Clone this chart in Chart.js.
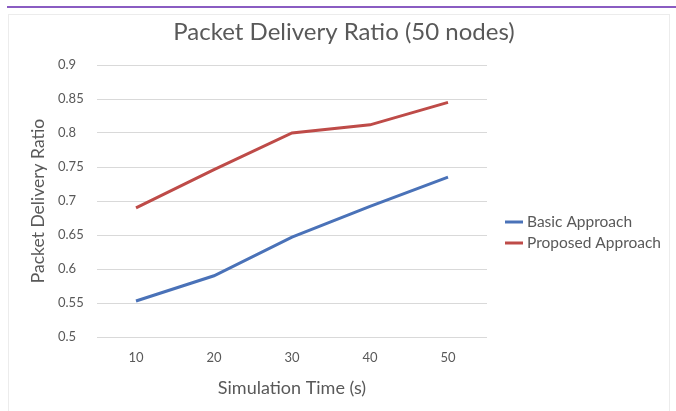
<!DOCTYPE html>
<html>
<head>
<meta charset="utf-8">
<script src="https://cdn.jsdelivr.net/npm/chart.js@4/dist/chart.umd.min.js"></script>
<style>
  html, body { margin: 0; padding: 0; background: #ffffff; }
  body { width: 676px; height: 411px; position: relative; overflow: hidden; }
  #rule { position: absolute; left: 7px; top: 6px; width: 669px; height: 2px; background: #8a5cc2; }
  #frame { position: absolute; left: 8px; top: 14px; width: 662px; height: 400px; border: 1px solid #ececec; box-sizing: border-box; }
  #wrap { position: absolute; left: 0; top: 0; width: 676px; height: 411px; }
</style>
</head>
<body>
<div id="rule"></div>
<div id="frame"></div>
<div id="wrap"><canvas id="c" width="676" height="411"></canvas></div>
<script>
// Simulation times (s) on the category axis
const simTimes = ['10', '20', '30', '40', '50'];
// Packet delivery ratio for each approach
const basicApproach = [0.553, 0.590, 0.647, 0.692, 0.735];
const proposedApproach = [0.690, 0.746, 0.800, 0.812, 0.845];
// Y axis tick labels
const yTicks = ['0.5', '0.55', '0.6', '0.65', '0.7', '0.75', '0.8', '0.85', '0.9'];

const textColor = '#595959';
const fontFamily = 'Lato, "Open Sans", sans-serif';

// Chart title, rotated y-axis title and the side legend
const extras = {
  id: 'extras',
  afterDraw(chart) {
    const ctx = chart.ctx;
    const area = chart.chartArea;

    ctx.save();
    ctx.fillStyle = textColor;
    ctx.font = '24px ' + fontFamily;
    ctx.textAlign = 'center';
    ctx.textBaseline = 'middle';
    ctx.fillText('Packet Delivery Ratio (50 nodes)', 344, 32);
    ctx.restore();

    ctx.save();
    ctx.fillStyle = textColor;
    ctx.font = '17.5px ' + fontFamily;
    ctx.textAlign = 'center';
    ctx.textBaseline = 'middle';
    ctx.translate(38, (area.top + area.bottom) / 2);
    ctx.rotate(-Math.PI / 2);
    ctx.fillText('Packet Delivery Ratio', 0, 0);
    ctx.restore();

    ctx.save();
    ctx.font = '15.5px ' + fontFamily;
    ctx.textBaseline = 'middle';
    chart.data.datasets.forEach((ds, i) => {
      const y = 222 + i * 21;
      ctx.strokeStyle = ds.borderColor;
      ctx.lineWidth = 3;
      ctx.beginPath();
      ctx.moveTo(505, y);
      ctx.lineTo(523, y);
      ctx.stroke();
      ctx.fillStyle = textColor;
      ctx.fillText(ds.label, 527, y);
    });
    ctx.restore();
  }
};

new Chart(document.getElementById('c'), {
  type: 'line',
  data: {
    labels: simTimes,
    datasets: [
      { label: 'Basic Approach', data: basicApproach, borderColor: '#4a72b8', backgroundColor: '#4a72b8', borderWidth: 3, pointRadius: 0, tension: 0 },
      { label: 'Proposed Approach', data: proposedApproach, borderColor: '#be4b48', backgroundColor: '#be4b48', borderWidth: 3, pointRadius: 0, tension: 0 }
    ]
  },
  options: {
    responsive: false,
    animation: false,
    layout: { padding: { left: 58, right: 189, top: 65, bottom: 10 } },
    plugins: {
      legend: { display: false },
      tooltip: { enabled: false },
      title: { display: false }
    },
    scales: {
      x: {
        offset: true,
        grid: { display: false, drawTicks: false },
        border: { display: false },
        ticks: { color: textColor, font: { family: fontFamily, size: 13 }, padding: 13 },
        title: { display: true, text: 'Simulation Time (s)', color: textColor, font: { family: fontFamily, size: 18 }, padding: { top: 0, bottom: 2 } },
        afterFit(scale) { scale.height = 64; }
      },
      y: {
        min: 0.5,
        max: 0.9,
        afterBuildTicks(scale) { scale.ticks = yTicks.map(v => ({ value: parseFloat(v) })); },
        grid: { color: '#d9d9d9', lineWidth: 1, drawTicks: false },
        border: { display: false },
        ticks: {
          color: textColor,
          font: { family: fontFamily, size: 13 },
          crossAlign: 'far',
          callback: (v) => yTicks.find(t => parseFloat(t) === v) || ''
        },
        afterFit(scale) { scale.width = 39; }
      }
    }
  },
  plugins: [extras]
});
</script>
</body>
</html>
